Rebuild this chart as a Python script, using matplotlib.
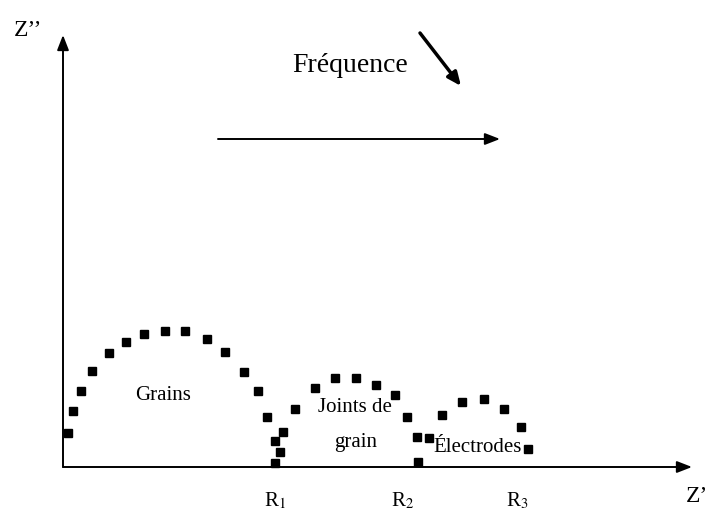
import matplotlib
matplotlib.use("Agg")
import matplotlib.pyplot as plt
import numpy as np

plt.rcParams['font.family'] = ['Liberation Serif', 'DejaVu Serif']
plt.rcParams['mathtext.fontset'] = 'stix'

# Nyquist points (Z', Z'') in arbitrary units, three arcs
grains_re = [0.5, 1.0, 1.8, 2.9, 4.6, 6.3, 8.1, 10.2, 12.2, 14.4, 16.2, 18.1, 19.5, 20.4, 21.2, 21.7, 21.2]
grains_im = [3.4, 5.6, 7.6, 9.6, 11.4, 12.5, 13.3, 13.6, 13.6, 12.8, 11.5, 9.5, 7.6, 5.0, 2.6, 1.5, 0.4]
joints_re = [22.0, 23.2, 25.2, 27.2, 29.3, 31.3, 33.2, 34.4, 35.4, 35.5]
joints_im = [3.5, 5.8, 7.9, 8.9, 8.9, 8.2, 7.2, 5.0, 3.0, 0.5]
electr_re = [36.6, 37.9, 39.9, 42.1, 44.1, 45.8, 46.5]
electr_im = [2.9, 5.2, 6.5, 6.8, 5.8, 4.0, 1.8]

resistances = [21.2, 34.0, 45.4]
r_labels = ['R$_1$', 'R$_2$', 'R$_3$']
arc_labels = ['Grains', 'Joints de', 'grain', 'Électrodes']
arc_label_pos = [(10.0, 7.1), (29.2, 6.0), (29.3, 2.5), (41.5, 1.9)]

fig = plt.figure(figsize=(7.09, 5.14), dpi=100)
ax = fig.add_axes([0, 0, 1, 1])
ax.set_xlim(-6.3, 64.6)
ax.set_ylim(-4.7, 46.7)
ax.axis('off')

# axes drawn as arrows
arrow = dict(arrowstyle='-|>,head_length=0.9,head_width=0.35', color='black', lw=1.4,
             shrinkA=0, shrinkB=0)
ax.annotate('', xy=(62.9, 0), xytext=(0, 0), arrowprops=arrow)
ax.annotate('', xy=(0, 43.2), xytext=(0, 0), arrowprops=arrow)

for re, im in [(grains_re, grains_im), (joints_re, joints_im), (electr_re, electr_im)]:
    ax.plot(re, im, 's', color='black', markersize=6.3, zorder=3)

for r, lab in zip(resistances, r_labels):
    ax.text(r, -3.4, lab, ha='center', va='center', fontsize=15)

for (x, y), lab in zip(arc_label_pos, arc_labels):
    ax.text(x, y, lab, ha='center', va='center', fontsize=15)

ax.text(63.4, -3.0, 'Z’', ha='center', va='center', fontsize=17)
ax.text(-3.5, 43.7, 'Z’’', ha='center', va='center', fontsize=17)

# frequency direction
ax.text(28.7, 40.2, 'Fréquence', ha='center', va='center', fontsize=20)
ax.annotate('', xy=(39.8, 38.1), xytext=(35.7, 43.4),
            arrowprops=dict(arrowstyle='-|>,head_length=0.8,head_width=0.35', color='black',
                            lw=2.5, shrinkA=0, shrinkB=0))
ax.annotate('', xy=(43.7, 32.8), xytext=(15.5, 32.8), arrowprops=arrow)

fig.savefig('out.png', dpi=100)
